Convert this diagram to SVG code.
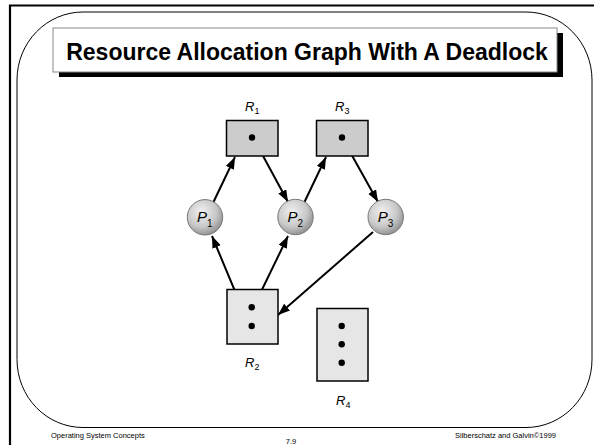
<svg xmlns="http://www.w3.org/2000/svg" width="594" height="445" viewBox="0 0 594 445">
<defs>
<radialGradient id="ball" cx="0.4" cy="0.35" r="0.7">
<stop offset="0" stop-color="#f0f0f0"/>
<stop offset="0.6" stop-color="#c8c8c8"/>
<stop offset="1" stop-color="#8a8a8a"/>
</radialGradient>
<marker id="ah" markerUnits="userSpaceOnUse" markerWidth="13" markerHeight="10" refX="12" refY="4.5" orient="auto">
<path d="M0,0 L12,4.5 L0,9 z" fill="#000"/>
</marker>
<style>
.lbl{font-family:"Liberation Sans",Arial,sans-serif;font-style:italic;fill:#000}
.sub{font-style:normal}
.res{stroke:#000;stroke-width:1.5}
.dark{fill:#cccccc}
.light{fill:#e6e6e6}
.dot{fill:#000}
.proc{fill:url(#ball);stroke:#777;stroke-width:1}
.edge{stroke:#000;stroke-width:2;fill:none;marker-end:url(#ah)}
.foot{font-family:"Liberation Sans",Arial,sans-serif;font-size:7.5px;fill:#000}
</style>
</defs>
<rect width="594" height="445" fill="#fff"/>
<!-- frame -->
<path d="M10,445 V5.5 H594" fill="none" stroke="#000" stroke-width="2.2"/>
<rect x="17" y="12" width="575" height="415.5" rx="66" ry="68" fill="none" stroke="#000" stroke-width="1"/>
<!-- title -->
<g id="title">
<rect x="59" y="33" width="504" height="44" fill="#000"/>
<rect x="53" y="28" width="504" height="44" fill="#fff" stroke="#888" stroke-width="1"/>
<text x="307" y="60" text-anchor="middle" font-family="'Liberation Sans',Arial,sans-serif" font-weight="bold" font-size="23" fill="#000">Resource Allocation Graph With A Deadlock</text>
</g>
<!-- connectors -->
<g id="edges">
<line class="edge" x1="213" y1="203" x2="235" y2="157"/>
<line class="edge" x1="256" y1="143" x2="288" y2="202"/>
<line class="edge" x1="304" y1="203" x2="326" y2="157"/>
<line class="edge" x1="345" y1="143" x2="378" y2="202"/>
<line class="edge" x1="373" y1="232" x2="278" y2="315"/>
<line class="edge" x1="247" y1="320" x2="212" y2="236"/>
<line class="edge" x1="256" y1="302" x2="288" y2="236"/>
</g>
<!-- resources -->
<g id="R1">
<rect class="res dark" x="226.5" y="120.5" width="51.5" height="35.5"/>
<circle class="dot" cx="252" cy="137.5" r="3.2"/>
<text class="lbl" x="245" y="111" font-size="13">R<tspan class="sub" font-size="9" dy="3">1</tspan></text>
</g>
<g id="R3">
<rect class="res dark" x="316.5" y="120.5" width="51.5" height="35.5"/>
<circle class="dot" cx="342" cy="137.5" r="3.2"/>
<text class="lbl" x="335" y="111" font-size="13">R<tspan class="sub" font-size="9" dy="3">3</tspan></text>
</g>
<g id="R2">
<rect class="res light" x="227" y="289.5" width="51" height="54.5"/>
<circle class="dot" cx="251.7" cy="307.3" r="3.2"/>
<circle class="dot" cx="251.7" cy="326" r="3.2"/>
<text class="lbl" x="245" y="367" font-size="13">R<tspan class="sub" font-size="9" dy="3">2</tspan></text>
</g>
<g id="R4">
<rect class="res light" x="317" y="308.5" width="51" height="72.5"/>
<circle class="dot" cx="341.7" cy="326" r="3.2"/>
<circle class="dot" cx="341.7" cy="344.3" r="3.2"/>
<circle class="dot" cx="341.7" cy="362.7" r="3.2"/>
<text class="lbl" x="336" y="405" font-size="13">R<tspan class="sub" font-size="9" dy="3">4</tspan></text>
</g>
<!-- processes -->
<g id="P1">
<circle class="proc" cx="205" cy="217.3" r="17.7"/>
<text class="lbl" x="197" y="222" font-size="15">P<tspan class="sub" font-size="10" dy="5">1</tspan></text>
</g>
<g id="P2">
<circle class="proc" cx="295.5" cy="217" r="17.7"/>
<text class="lbl" x="287.5" y="222" font-size="15">P<tspan class="sub" font-size="10" dy="5">2</tspan></text>
</g>
<g id="P3">
<circle class="proc" cx="385.7" cy="217" r="17.7"/>
<text class="lbl" x="377.7" y="222" font-size="15">P<tspan class="sub" font-size="10" dy="5">3</tspan></text>
</g>
<!-- footer -->
<text class="foot" x="51" y="438">Operating System Concepts</text>
<text class="foot" x="291" y="444" text-anchor="middle">7.9</text>
<text class="foot" x="556" y="438" text-anchor="end">Silberschatz and Galvin©1999</text>
</svg>
